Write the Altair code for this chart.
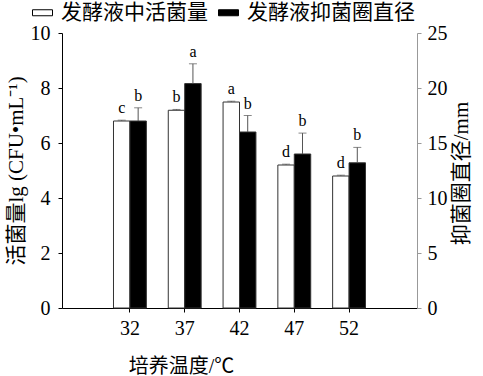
import altair as alt
import pandas as pd

temps = ["32", "37", "42", "47", "52"]
viable = [6.80, 7.19, 7.49, 5.20, 4.80]
viable_err = [0.03, 0.03, 0.03, 0.03, 0.03]
viable_sig = ["c", "b", "a", "d", "d"]
zone = [17.0, 20.4, 16.0, 14.0, 13.2]
zone_err = [1.2, 1.8, 1.5, 1.9, 1.4]
zone_sig = ["b", "a", "b", "b", "b"]

S1 = "发酵液中活菌量"
S2 = "发酵液抑菌圈直径"

FONT = "Liberation Serif, Noto Sans CJK SC"

df1 = pd.DataFrame({"temp": temps, "value": viable, "err": viable_err, "sig": viable_sig, "series": S1})
df1["upper"] = df1["value"] + df1["err"]
df2 = pd.DataFrame({"temp": temps, "value": zone, "err": zone_err, "sig": zone_sig, "series": S2})
df2["upper"] = df2["value"] + df2["err"]

x_enc = alt.X(
    "temp:N", sort=temps,
    scale=alt.Scale(paddingInner=0.4, paddingOuter=0.94),
    axis=alt.Axis(title="培养温度/℃", labelAngle=0, domainColor="black", tickColor="black",
                  tickSize=4, labelPadding=6, titleX=119, titleY=68, titleAlign="center",
                  titleBaseline="bottom", titleFontSize=20),
)
xo_enc = alt.XOffset("series:N", scale=alt.Scale(domain=[S1, S2], paddingInner=0, paddingOuter=0))
color_enc = alt.Color(
    "series:N",
    scale=alt.Scale(domain=[S1, S2], range=["white", "black"]),
    legend=alt.Legend(
        title=None, orient="none", legendX=-30, legendY=-31, direction="horizontal",
        symbolType="M-1,-0.3H1V0.3H-1Z", symbolSize=400, symbolStrokeColor="black",
        symbolStrokeWidth=1, labelFontSize=21, labelFont=FONT, labelOffset=8,
        columnPadding=8, labelLimit=300,
    ),
)

y_left = alt.Y(
    "value:Q", scale=alt.Scale(domain=[0, 10], nice=False),
    axis=alt.Axis(title="活菌量lg (CFU•mL⁻¹)", orient="left", values=[0, 2, 4, 6, 8, 10],
                  domainColor="black", tickColor="black", tickSize=4, labelPadding=8,
                  titleFontSize=21),
)
y_right = alt.Y(
    "value:Q", scale=alt.Scale(domain=[0, 25], nice=False),
    axis=alt.Axis(title="抑菌圈直径/mm", orient="right", values=[0, 5, 10, 15, 20, 25],
                  domainColor="#999999", tickColor="#999999", tickSize=4, labelPadding=6,
                  titleAngle=270, titleFontSize=21, titleX=44, titleY=140,
                  titleAlign="center", titleBaseline="middle"),
)


def layer_for(df, y_enc):
    base = alt.Chart(df)
    bars = base.mark_bar(stroke="#333333", strokeWidth=1).encode(
        x=x_enc, xOffset=xo_enc, y=y_enc, color=color_enc
    )
    rule = base.mark_rule(color="#555555", strokeWidth=1).encode(
        x=x_enc, xOffset=xo_enc, y=alt.Y("value:Q"), y2="upper:Q"
    )
    cap = base.mark_tick(orient="horizontal", size=8, thickness=1, color="#555555").encode(
        x=x_enc, xOffset=xo_enc, y=alt.Y("upper:Q")
    )
    text = base.mark_text(baseline="bottom", dy=-4, fontSize=16, font=FONT, color="black").encode(
        x=x_enc, xOffset=xo_enc, y=alt.Y("upper:Q"), text="sig:N"
    )
    return alt.layer(bars, rule, cap, text)


left = layer_for(df1, y_left)
right = layer_for(df2, y_right)

chart = alt.layer(left, right).resolve_scale(y="independent").properties(
    width=355, height=275,
    autosize=alt.AutoSizeParams(type="none"),
    padding={"left": 62, "top": 33, "right": 66, "bottom": 68},
).configure_view(stroke=None).configure_axis(
    grid=False, labelFont=FONT, titleFont=FONT, labelFontSize=20, titleFontSize=20,
    labelColor="black", titleColor="black", titleFontWeight="normal", domainWidth=1,
)

chart.save("out.html", embed_options={"renderer": "svg", "actions": False})
